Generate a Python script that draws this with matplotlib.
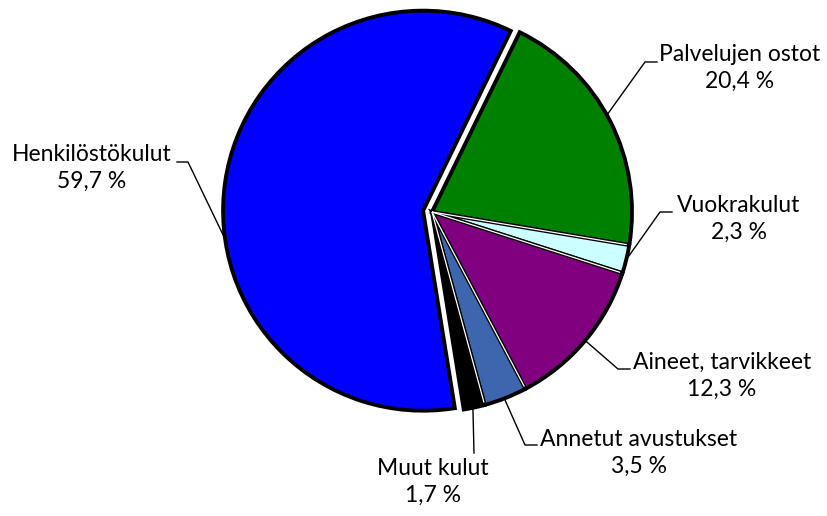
import matplotlib
matplotlib.use("Agg")
import matplotlib.pyplot as plt
import numpy as np

# ---------------------------------------------------------------------------
# Data
# ---------------------------------------------------------------------------
labels = ["Palvelujen ostot", "Vuokrakulut", "Aineet, tarvikkeet",
          "Annetut avustukset", "Muut kulut", "Henkilöstökulut"]
shares = [20.4, 2.3, 12.3, 3.5, 1.7, 59.7]
colors = ["#008000", "#CCFFFF", "#800080", "#3D66AE", "#000000", "#0000FF"]

# ---------------------------------------------------------------------------
# Layout (pixel coordinates, y measured from the top of the image)
# ---------------------------------------------------------------------------
W, H = 827, 516
CENTER = (432, H - 212)
RADIUS = 200
explode = [0, 0, 0, 0, 0, 9]

# text block centre, leader anchor angle (deg), elbow point, line end point
label_layout = [
    ((740, 68), 29.0, (645, 62), (657, 62)),
    ((739, 219), -13.8, (660, 212), (672, 212)),
    ((722, 376), -40.0, (618, 369), (630, 369)),
    ((639, 453), -68.8, (525, 445), (537, 445)),
    ((433, 482), -78.2, (474, 453), (474, 453)),
    ((92, 168), 188.2, (188, 162), (177, 162)),
]

plt.rcParams["font.family"] = ["Lato", "DejaVu Sans"]

fig = plt.figure(figsize=(W / 100, H / 100), dpi=100)
ax = fig.add_axes([0, 0, 1, 1])

wedges, _ = ax.pie(
    shares, colors=colors, startangle=64, counterclock=False,
    explode=explode, center=CENTER, radius=RADIUS,
    wedgeprops=dict(edgecolor="black", linewidth=2.8),
)
ax.set_xlim(0, W)
ax.set_ylim(0, H)
ax.set_aspect("equal")
ax.axis("off")

# thin white separators between the non-exploded slices
for w in wedges[:4]:
    a = np.radians(w.theta1)
    cx, cy = w.center
    ax.plot([cx, cx + (w.r - 2.5) * np.cos(a)], [cy, cy + (w.r - 2.5) * np.sin(a)],
            color="white", lw=0.9, solid_capstyle="butt", zorder=5)

for w, name, val, (txt, ang, elbow, end) in zip(wedges, labels, shares, label_layout):
    cx, cy = w.center
    a = np.radians(ang)
    ax_pt = (cx + w.r * np.cos(a), cy + w.r * np.sin(a))
    ax.plot([ax_pt[0], elbow[0], end[0]], [ax_pt[1], H - elbow[1], H - end[1]],
            color="black", lw=1.0, zorder=6)
    pct = f"{val:.1f} %".replace(".", ",")
    ax.text(txt[0], H - txt[1], f"{name}\n{pct}", ha="center", va="center",
            multialignment="center", fontsize=16.5, linespacing=1.32, color="black")

fig.savefig("out.png", dpi=100)
plt.close(fig)
